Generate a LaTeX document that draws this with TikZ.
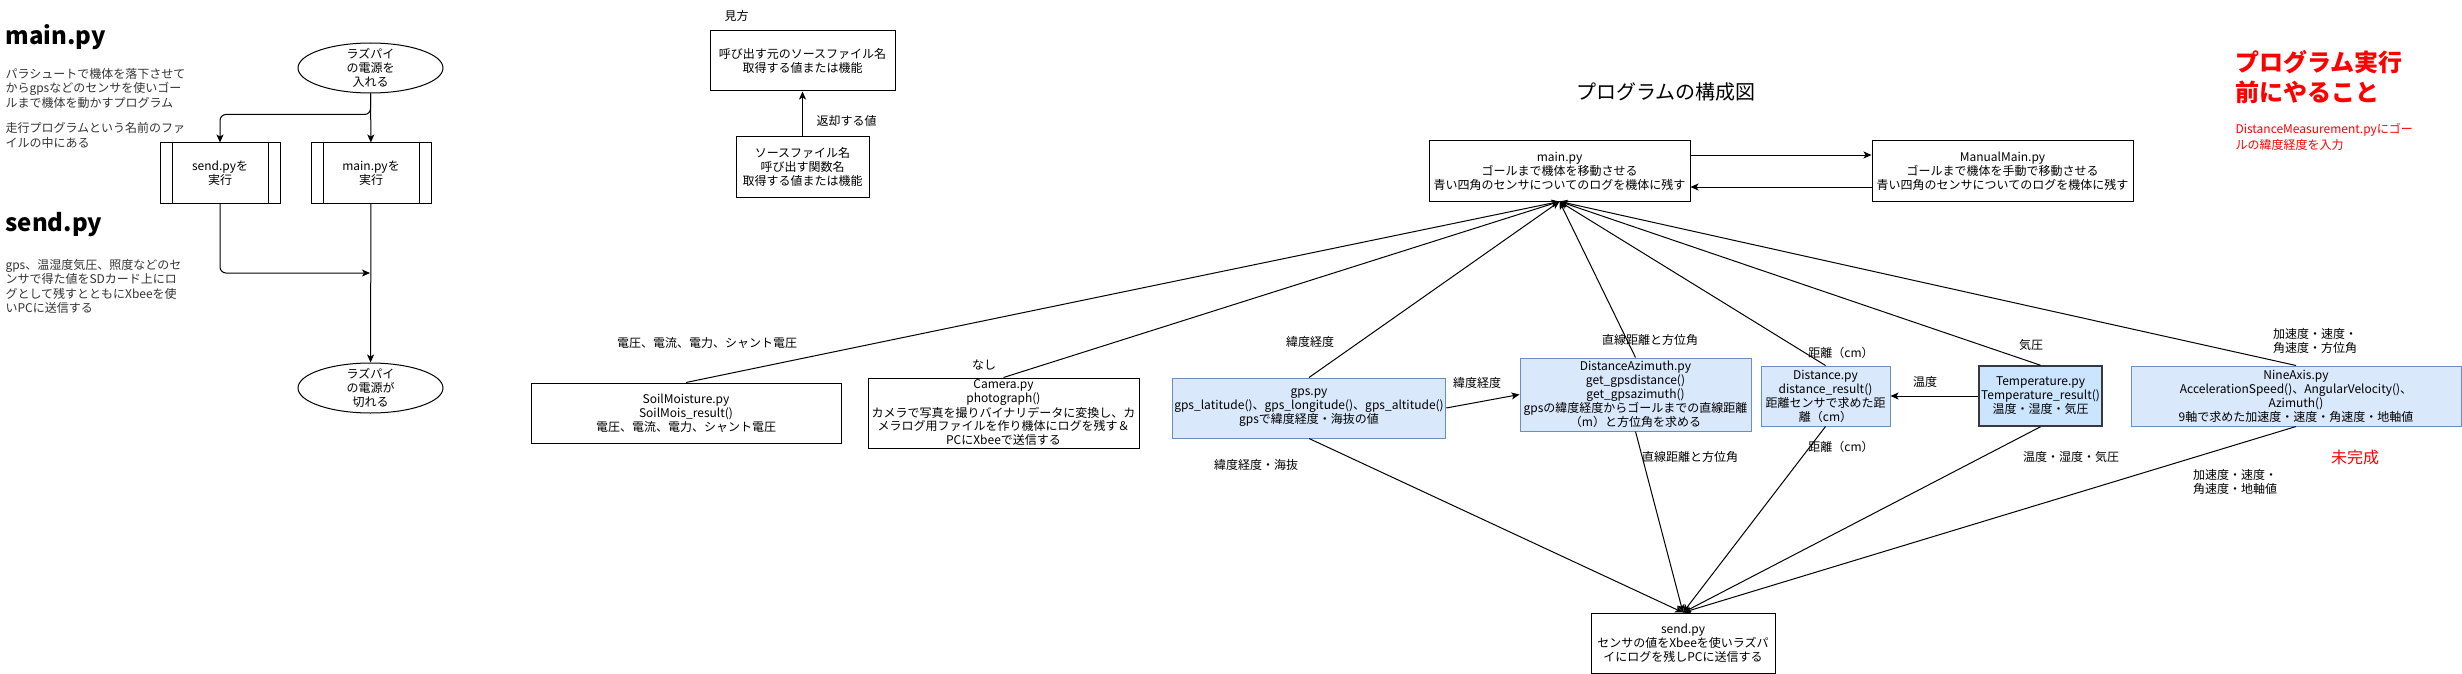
\documentclass[tikz,border=0pt]{standalone}
\usepackage{fontspec}
\setmainfont{Noto Sans CJK JP}
\usetikzlibrary{shapes.geometric, arrows.meta, positioning}

\definecolor{boxblue}{HTML}{DAE8FC}
\definecolor{boxline}{HTML}{6C8EBF}
\definecolor{tempfill}{HTML}{CCE5FF}
\definecolor{templine}{HTML}{36393D}
\definecolor{notered}{HTML}{FF0000}
\definecolor{bodygray}{HTML}{333333}

\newcommand{\txtsize}{\fontsize{12}{14}\selectfont}

\begin{document}
\begin{tikzpicture}[
    x=1pt, y=-1pt, line width=1pt,
    box/.style={rectangle, draw, align=center, inner xsep=2pt, inner ysep=0pt, minimum height=60pt, fill=white, font=\txtsize},
    bluebox/.style={box, fill=boxblue, draw=boxline},
    procbox/.style={box, minimum width=120pt, path picture={
        \draw ([xshift=12pt]path picture bounding box.north west) -- ([xshift=12pt]path picture bounding box.south west)
              ([xshift=-12pt]path picture bounding box.north east) -- ([xshift=-12pt]path picture bounding box.south east);}},
    termnode/.style={ellipse, draw, minimum width=145pt, minimum height=50pt, inner sep=0pt},
    lbl/.style={align=center, inner sep=0pt, font=\txtsize},
    note/.style={align=left, inner sep=0pt, text=bodygray, font=\fontsize{12}{14.5}\selectfont},
    heading/.style={inner sep=0pt, font=\fontsize{24}{28}\selectfont\bfseries},
    arrow/.style={-{Stealth[length=8pt, width=7pt, inset=2pt]}}
]
\useasboundingbox (0,0) rectangle (2462,674);

% 1. Notes on the left
\node[heading, anchor=west] (mainhead) at (5,37) {main.py};
\node[note, anchor=west] (mainnote) at (5,88) {パラシュートで機体を落下させて\\からgpsなどのセンサを使いゴー\\ルまで機体を動かすプログラム};
\node[note, anchor=west] (mainnote2) at (5,135.5) {走行プログラムという名前のファ\\イルの中にある};
\node[heading, anchor=west] (sendhead) at (5,225) {send.py};
\node[note, anchor=west] (sendnote) at (5,286.5) {gps、温湿度気圧、照度などのセ\\ンサで得た値をSDカード上にロ\\グとして残すとともにXbeeを使\\いPCに送信する};

% 2. Flowchart
\node[termnode, label={[lbl]center:{ラズパイ\\の電源を\\入れる}}] (poweron) at (370.5,68) {};
\node[procbox] (sendrun) at (220,173) {send.pyを\\実行};
\node[procbox, right=30pt of sendrun] (mainrun) {main.pyを\\実行};
\node[termnode, label={[lbl]center:{ラズパイ\\の電源が\\切れる}}] (poweroff) at (370.5,388) {};
\coordinate (merge) at (370,273);

\draw[arrow] (poweron) -- (mainrun);
\draw[arrow, rounded corners=6pt] (poweron.south) -- ++(0,21) -| (sendrun.north);
\draw[arrow, rounded corners=6pt] (sendrun.south) |- (merge);
\draw[arrow] (mainrun) -- (poweroff);

% 3. Legend
\node[lbl, anchor=west] (legendtitle) at (724,16) {見方};
\node[box, minimum width=185pt] (legtop) at (802.5,61) {呼び出す元のソースファイル名\\取得する値または機能};
\node[box, minimum width=133pt, below=45pt of legtop] (legbot) {ソースファイル名\\呼び出す関数名\\取得する値または機能};
\draw[arrow] (legbot) -- (legtop);
\node[lbl, anchor=west] (legret) at (816,121) {返却する値};

% 4. Title and notes on the right
\node[lbl, font=\fontsize{20}{24}\selectfont] (title) at (1666,92) {プログラムの構成図};
\node[heading, align=left, text=notered, anchor=west, font=\fontsize{24}{30}\selectfont\bfseries] (todohead) at (2235,77) {プログラム実行\\前にやること};
\node[lbl, align=left, text=notered, anchor=west, font=\fontsize{12}{16}\selectfont] (todonote) at (2235,136.5) {DistanceMeasurement.pyにゴー\\ルの緯度経度を入力};

% 5. Programs
\node[box, minimum width=261pt] (main) at (1559.5,171) {main.py\\ゴールまで機体を移動させる\\青い四角のセンサについてのログを機体に残す};
\node[box, minimum width=261pt, right=181pt of main] (manual) {ManualMain.py\\ゴールまで機体を手動で移動させる\\青い四角のセンサについてのログを機体に残す};
\node[box, minimum width=184pt] (send) at (1683,643) {send.py\\センサの値をXbeeを使いラズパ\\イにログを残しPCに送信する};

% 6. Sensor modules
\node[box, minimum width=310pt] (soil) at (686,413) {SoilMoisture.py\\SoilMois\_result()\\電圧、電流、電力、シャント電圧};
\node[box, minimum width=271pt, minimum height=70pt] (camera) at (1003.5,413) {Camera.py\\photograph()\\カメラで写真を撮りバイナリデータに変換し、カ\\メラログ用ファイルを作り機体にログを残す＆\\PCにXbeeで送信する};
\node[bluebox, minimum width=264pt] (gps) at (1309,408) {gps.py\\gps\_latitude()、gps\_longitude()、gps\_altitude()\\gpsで緯度経度・海抜の値};
\node[bluebox, minimum width=231pt, minimum height=73pt] (distaz) at (1635.5,394.5) {DistanceAzimuth.py\\get\_gpsdistance()\\get\_gpsazimuth()\\gpsの緯度経度からゴールまでの直線距離\\（m）と方位角を求める};
\node[bluebox, minimum width=129pt] (dist) at (1825.5,396) {Distance.py\\distance\_result()\\距離センサで求めた距\\離（cm）};
\node[box, fill=tempfill, draw=templine, line width=1.5pt, minimum width=119pt] (temp) at (2040.5,396) {Temperature.py\\Temperature\_result()\\温度・湿度・気圧};
\node[bluebox, minimum width=330pt] (nine) at (2296,396) {NineAxis.py\\AccelerationSpeed()、AngularVelocity()、\\Azimuth()\\9軸で求めた加速度・速度・角速度・地軸値};
\node[lbl, text=notered, font=\fontsize{16}{19}\selectfont] (unfinished) at (2355,457) {未完成};

% 7. Connections
\draw[arrow] ([yshift=16pt]main.east) -- ([yshift=16pt]manual.west);
\draw[arrow] ([yshift=-16pt]manual.west) -- ([yshift=-16pt]main.east);

\draw[arrow] (soil.north) -- (main.south);
\draw[arrow] (camera.north) -- (main.south);
\draw[arrow] (gps.north) -- (main.south);
\draw[arrow] (distaz.north) -- (main.south);
\draw[arrow] (dist.north) -- (main.south);
\draw[arrow] (temp.north) -- (main.south);
\draw[arrow] (nine.north) -- (main.south);

\draw[arrow] (gps.east) -- (distaz.west);
\draw[arrow] (temp.west) -- (dist.east);

\draw[arrow] (gps.south) -- (send.north);
\draw[arrow] (distaz.south) -- (send.north);
\draw[arrow] (dist.south) -- (send.north);
\draw[arrow] (temp.south) -- (send.north);
\draw[arrow] (nine.south) -- (send.north);

% 8. Values passed on the connectors
\node[lbl] (vsoil) at (707,343) {電圧、電流、電力、シャント電圧};
\node[lbl] (vcam) at (984,365) {なし};
\node[lbl] (vgpsup) at (1310,342) {緯度経度};
\node[lbl] (vgpsaz) at (1477,383) {緯度経度};
\node[lbl] (vgpsdown) at (1256,465) {緯度経度・海抜};
\node[lbl] (vazup) at (1650,340) {直線距離と方位角};
\node[lbl] (vazdown) at (1690,457) {直線距離と方位角};
\node[lbl] (vdistup) at (1841,353) {距離（cm）};
\node[lbl] (vdistdown) at (1841,447) {距離（cm）};
\node[lbl] (vtempdist) at (1925,382) {温度};
\node[lbl] (vtempup) at (2031,345) {気圧};
\node[lbl] (vtempdown) at (2071,457) {温度・湿度・気圧};
\node[lbl] (vnineup) at (2315,341) {加速度・速度・\\角速度・方位角};
\node[lbl] (vninedown) at (2235,482) {加速度・速度・\\角速度・地軸値};

\end{tikzpicture}
\end{document}
